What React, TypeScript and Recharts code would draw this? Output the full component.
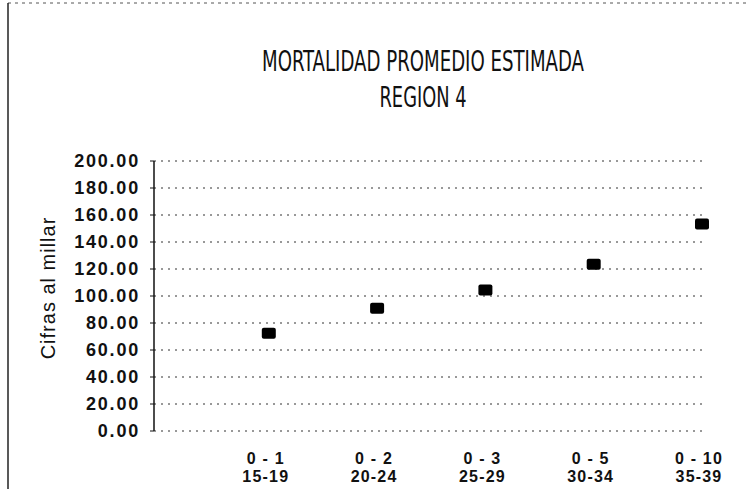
import { ScatterChart, Scatter, XAxis, YAxis, CartesianGrid } from 'recharts';

// grupos de edad (hijo / madre) y mortalidad estimada, cifras al millar
const edadHijo = ['0 - 1', '0 - 2', '0 - 3', '0 - 5', '0 - 10'];
const edadMadre = ['15-19', '20-24', '25-29', '30-34', '35-39'];
const mortalidad = [72.4, 90.9, 104.4, 123.6, 153.3];
const yTicks = [0, 20, 40, 60, 80, 100, 120, 140, 160, 180, 200];

const data = mortalidad.map((valor, i) => ({ pos: i + 1, valor }));

const SANS = "'Liberation Sans', Arial, Helvetica, sans-serif";
const NARROW = "'Liberation Sans Narrow', 'DejaVu Sans Condensed', 'DejaVu Sans', sans-serif";

function XTick({ x, y, payload }: { x: number; y: number; payload: { value: number } }) {
  const i = payload.value - 1;
  return (
    <text
      x={x - 3}
      y={y + 33}
      textAnchor='middle'
      fontSize={16}
      fontWeight='bold'
      fill='#111'
      fontFamily={SANS}
      letterSpacing={1.2}
    >
      <tspan x={x - 3}>{edadHijo[i]}</tspan>
      <tspan x={x - 3} dy={18}>
        {edadMadre[i]}
      </tspan>
    </text>
  );
}

function YTick({ x, y, payload }: { x: number; y: number; payload: { value: number } }) {
  return (
    <text x={x} y={y} dy='0.36em' textAnchor='end' fontSize={18} fontWeight='bold' fill='#111' fontFamily={SANS} letterSpacing={1.8}>
      {payload.value.toFixed(2)}
    </text>
  );
}

function Square({ cx, cy }: { cx?: number; cy?: number }) {
  if (cx == null || cy == null) return null;
  return <rect x={cx - 7} y={cy - 5.5} width={14} height={11} rx={2} fill='#000' />;
}

export default function App() {
  return (
    <div style={{ position: 'absolute', left: 0, top: 0, width: 749, height: 489, background: '#fff' }}>
      <ScatterChart width={749} height={489} margin={{ top: 161, right: 47, bottom: 0, left: 0 }}>
        <CartesianGrid vertical={false} stroke='#333' strokeDasharray='2 5' />
        <XAxis
          type='number'
          dataKey='pos'
          domain={[-0.06, 5]}
          ticks={[1, 2, 3, 4, 5]}
          interval={0}
          height={58}
          axisLine={false}
          tickLine={false}
          tickSize={0}
          tickMargin={0}
          // eslint-disable-next-line @typescript-eslint/no-explicit-any
          tick={XTick as any}
        />
        <YAxis
          type='number'
          dataKey='valor'
          domain={[0, 200]}
          ticks={yTicks}
          interval={0}
          width={154}
          axisLine={{ stroke: '#111', strokeWidth: 1.5 }}
          tickLine={{ stroke: '#111' }}
          tickSize={4}
          tickMargin={10}
          // eslint-disable-next-line @typescript-eslint/no-explicit-any
          tick={YTick as any}
        />
        <Scatter data={data} fill='#000' shape={Square} isAnimationActive={false} />
      </ScatterChart>
      <svg width={749} height={489} style={{ position: 'absolute', left: 0, top: 0, pointerEvents: 'none' }}>
        <line x1={8} y1={3} x2={749} y2={3} stroke='#555' strokeDasharray='3 4' />
        <line x1={8} y1={3} x2={8} y2={489} stroke='#222' strokeWidth={1.5} />
        <text x={423} y={71} textAnchor='middle' fontSize={28} fill='#111' fontFamily={NARROW} textLength={322} lengthAdjust='spacingAndGlyphs'>
          MORTALIDAD PROMEDIO ESTIMADA
        </text>
        <text x={423} y={107} textAnchor='middle' fontSize={28} fill='#111' fontFamily={NARROW} textLength={87} lengthAdjust='spacingAndGlyphs'>
          REGION 4
        </text>
        <text transform='translate(55,288) rotate(-90)' textAnchor='middle' fontSize={20} fill='#111' fontFamily={SANS} letterSpacing={1}>
          Cifras al millar
        </text>
      </svg>
    </div>
  );
}
